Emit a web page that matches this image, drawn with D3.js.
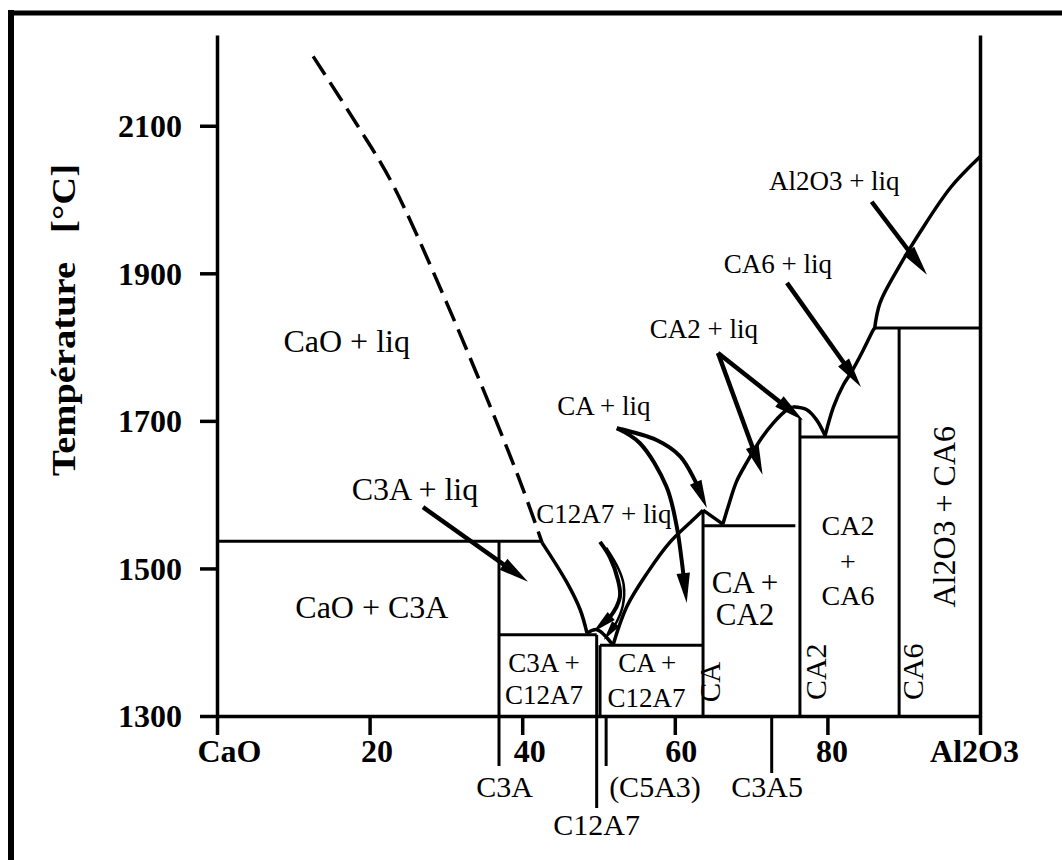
<!DOCTYPE html>
<html><head><meta charset="utf-8">
<script src="https://cdn.jsdelivr.net/npm/d3@7"></script>
<style>
html,body{margin:0;padding:0;background:#fff;}
svg{display:block;}
text{font-family:"Liberation Serif","Times New Roman",Times,serif;fill:#000;}
</style></head><body>
<svg id="chart" width="1062" height="860"></svg>
<script>
// ---------------- data ----------------
const xTickValues = [0, 20, 40, 60, 80, 100];
const xTickLabels = ["CaO", "20", "40", "60", "80", "Al2O3"];
const yTickValues = [1300, 1500, 1700, 1900, 2100];
const yTickLabels = ["1300", "1500", "1700", "1900", "2100"];

// compounds marked below the composition axis
const compoundNames = ["C3A", "C12A7", "(C5A3)", "C3A5"];
const compoundComp = [36.96, 49.76, 51.0, 72.7];
const compoundLabelComp = [37.7, 49.76, 57.4, 72.1];
const compoundLabelRow = [0, 1, 0, 0];

// liquidus branches [wt% Al2O3, °C]
const liquidusCaO = [[12.6, 2194], [18.5, 2099], [22.9, 2023], [30.1, 1860], [39.5, 1624], [42.6, 1535]];
const liquidusC3A = [[42.6, 1535], [45.8, 1482], [47.6, 1444], [48.5, 1412]];
const liquidusC12A7 = [[48.5, 1412], [49.8, 1417], [51.9, 1396]];
const liquidusCA = [[51.9, 1396], [53.7, 1448], [56.4, 1494], [59.4, 1536], [62.4, 1566], [63.7, 1579]];
const liquidusCAdown = [[63.7, 1579], [66.3, 1560]];
const liquidusCA2 = [[66.3, 1560], [67.0, 1584], [68.1, 1618], [69.4, 1643], [71.4, 1677], [72.9, 1697], [74.7, 1715], [75.5, 1719]];
const liquidusCA2down = [[75.5, 1719], [77.3, 1715], [78.6, 1701], [79.7, 1680]];
const liquidusCA6 = [[79.7, 1680], [80.8, 1719], [82.1, 1749], [83.2, 1767], [84.7, 1796], [86.0, 1823], [86.2, 1826]];
const liquidusAl2O3 = [[86.2, 1826], [86.9, 1860], [89.4, 1909], [92.1, 1955], [96.2, 2017], [100, 2058]];

// horizontal phase boundaries [from, to, °C]
const isotherms = [[0, 42.6, 1537], [36.96, 49.76, 1410], [50.2, 63.7, 1396], [63.7, 75.8, 1558], [76.4, 89.4, 1678], [86.2, 100, 1826]];
// vertical phase boundaries [composition, top °C]
const verticals = [[36.96, 1537], [49.76, 1410], [50.2, 1396], [63.7, 1579], [76.4, 1704], [89.4, 1826]];

// region labels [text, composition, °C (baseline), size, rotated]
const regionLabels = [
  ["CaO + liq", 17.0, 1794, 32, false],
  ["C3A + liq", 25.95, 1593, 32, false],
  ["CaO + C3A", 20.3, 1433, 32, false],
  ["C12A7 + liq", 50.7, 1562, 27, false],
  ["CA + liq", 50.7, 1708, 27, false],
  ["CA2 + liq", 63.8, 1813, 27, false],
  ["CA6 + liq", 73.5, 1901, 27, false],
  ["Al2O3 + liq", 80.9, 2013, 27, false],
  ["C3A +", 42.86, 1360, 27, false],
  ["C12A7", 42.86, 1316, 27, false],
  ["CA +", 56.4, 1360, 27, false],
  ["C12A7", 56.3, 1312, 27, false],
  ["CA +", 69.2, 1467, 31, false],
  ["CA2", 69.2, 1423, 31, false],
  ["CA2", 82.7, 1545, 28, false],
  ["+", 82.7, 1496, 28, false],
  ["CA6", 82.7, 1451, 28, false],
  ["Al2O3 + CA6", 96.7, 1570, 32, true],
  ["CA", 65.9, 1346, 29, true],
  ["CA2", 79.8, 1360, 30, true],
  ["CA6", 92.5, 1360, 30, true]
];

// annotation arrows [[wt%, °C] ...], last point = tip
const arrows = [
  [[27.0, 1583], [40.76, 1482]],
  [[50.2, 1536], [51.5, 1515], [52.56, 1484], [52.8, 1461], [51.5, 1434], [49.3, 1414]],
  [[51.0, 1528], [52.6, 1500], [53.3, 1478], [53.2, 1450], [52.2, 1424], [50.7, 1403]],
  [[52.4, 1690], [57.6, 1674], [60.7, 1652], [62.6, 1620], [64.2, 1582]],
  [[52.4, 1690], [55.4, 1670], [58.9, 1611], [60.25, 1557], [60.9, 1511], [61.56, 1453]],
  [[65.66, 1792], [71.5, 1627]],
  [[65.66, 1792], [76.8, 1701]],
  [[74.7, 1887], [84.4, 1746]],
  [[85.8, 1997], [93.05, 1898]]
];
const arrowWidths = [4.5, 4, 2.5, 4, 4, 4.5, 4.5, 4.5, 4.5];
const arrowHeads = [30, 24, 20, 28, 30, 30, 30, 30, 30];

// ---------------- drawing ----------------
const FONT = '"Liberation Serif","Times New Roman",Times,serif';
const svg = d3.select("#chart");
const x = d3.scaleLinear().domain([0, 100]).range([217, 980]);
const y = d3.scaleLinear().domain([1300, 2223]).range([716, 35]);

// frame
svg.append("line").attr("x1", 8).attr("x2", 1062).attr("y1", 13).attr("y2", 13)
  .attr("stroke", "#000").attr("stroke-width", 5);
svg.append("line").attr("x1", 11).attr("x2", 11).attr("y1", 10).attr("y2", 860)
  .attr("stroke", "#000").attr("stroke-width", 6);

// axes
const gx = svg.append("g").attr("transform", `translate(0,${y(1300)})`)
  .call(d3.axisBottom(x).tickValues(xTickValues).tickFormat((d, i) => xTickLabels[i])
    .tickSize(19).tickSizeOuter(0));
gx.select(".domain").attr("stroke-width", 3.5);
gx.selectAll(".tick line").attr("stroke-width", 3.5);
const xDx = [12, 7, 7, 6, 4, -6];
gx.selectAll(".tick text").attr("y", 46).attr("dy", 0)
  .attr("dx", (d, i) => xDx[i])
  .attr("font-family", FONT).attr("font-size", 32).attr("font-weight", "bold").attr("fill", "#000");

const gy = svg.append("g").attr("transform", `translate(${x(0)},0)`)
  .call(d3.axisLeft(y).tickValues(yTickValues).tickFormat((d, i) => yTickLabels[i])
    .tickSize(17).tickSizeOuter(0).tickPadding(18));
gy.select(".domain").attr("stroke-width", 3.5);
gy.selectAll(".tick line").attr("stroke-width", 3.5);
gy.selectAll(".tick text").attr("dy", "0.34em")
  .attr("font-family", FONT).attr("font-size", 32).attr("font-weight", "bold").attr("fill", "#000");

const gr = svg.append("g").attr("transform", `translate(${x(100)},0)`)
  .call(d3.axisRight(y).tickValues([]).tickSizeOuter(0));
gr.select(".domain").attr("stroke-width", 3.5);

// y title
svg.append("text")
  .attr("transform", "translate(75,320) rotate(-90)")
  .attr("text-anchor", "middle")
  .attr("font-size", 33).attr("font-weight", "bold")
  .attr("textLength", 312).attr("lengthAdjust", "spacingAndGlyphs")
  .text("Température\u00A0\u00A0\u00A0[°C]");

// compound marks below the axis
const tickLen = [50, 92, 50, 57];
compoundComp.forEach((c, i) => {
  svg.append("line").attr("x1", x(c)).attr("x2", x(c))
    .attr("y1", y(1300)).attr("y2", y(1300) + tickLen[i])
    .attr("stroke", "#000").attr("stroke-width", 3);
  svg.append("text").attr("x", x(compoundLabelComp[i]))
    .attr("y", y(1300) + (compoundLabelRow[i] ? 119 : 81))
    .attr("text-anchor", "middle").attr("font-size", 30)
    .text(compoundNames[i]);
});

// phase boundary lines
const lines = svg.append("g").attr("stroke", "#000").attr("stroke-width", 3);
isotherms.forEach(d => {
  lines.append("line").attr("x1", x(d[0])).attr("x2", x(d[1]))
    .attr("y1", y(d[2])).attr("y2", y(d[2]));
});
verticals.forEach(d => {
  lines.append("line").attr("x1", x(d[0])).attr("x2", x(d[0]))
    .attr("y1", y(d[1])).attr("y2", y(1300));
});

// liquidus
const curve = d3.line().x(d => x(d[0])).y(d => y(d[1])).curve(d3.curveCatmullRom.alpha(0.5));
svg.append("path").attr("d", curve(liquidusCaO)).attr("fill", "none")
  .attr("stroke", "#000").attr("stroke-width", 3.5).attr("stroke-dasharray", "22,9");
[liquidusC3A, liquidusC12A7, liquidusCA, liquidusCAdown, liquidusCA2, liquidusCA2down, liquidusCA6, liquidusAl2O3]
  .forEach(b => {
    svg.append("path").attr("d", curve(b)).attr("fill", "none")
      .attr("stroke", "#000").attr("stroke-width", 3.5).attr("stroke-linejoin", "round");
  });

// labels
regionLabels.forEach(l => {
  const t = svg.append("text").attr("font-size", l[3]).attr("text-anchor", "middle").text(l[0]);
  if (l[4]) t.attr("transform", `translate(${x(l[1])},${y(l[2])}) rotate(-90)`);
  else t.attr("x", x(l[1])).attr("y", y(l[2]));
});

// arrows
const pline = d3.line().curve(d3.curveCatmullRom.alpha(0.5));
arrows.forEach((a, i) => {
  const p = a.map(d => [x(d[0]), y(d[1])]);
  const tip = p[p.length - 1], prev = p[p.length - 2];
  const dx = tip[0] - prev[0], dy = tip[1] - prev[1], L = Math.hypot(dx, dy);
  const ux = dx / L, uy = dy / L;
  const hl = arrowHeads[i], hw = hl * 0.45;
  const p2 = p.slice();
  p2[p2.length - 1] = [tip[0] - ux * hl * 0.6, tip[1] - uy * hl * 0.6];
  svg.append("path").attr("d", pline(p2)).attr("fill", "none")
    .attr("stroke", "#000").attr("stroke-width", arrowWidths[i]);
  const bx = tip[0] - ux * hl, by = tip[1] - uy * hl;
  svg.append("path")
    .attr("d", `M${tip[0]},${tip[1]}L${bx - uy * hw / 2},${by + ux * hw / 2}L${bx + uy * hw / 2},${by - ux * hw / 2}Z`)
    .attr("fill", "#000");
});
</script>
</body></html>
